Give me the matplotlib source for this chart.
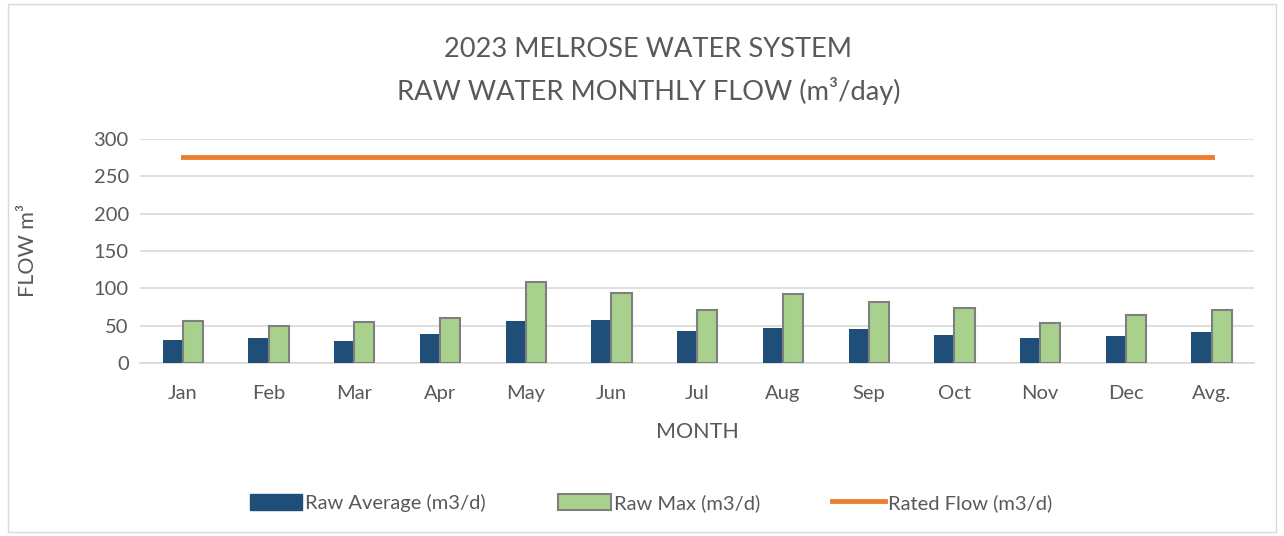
import numpy as np
import matplotlib
matplotlib.use("Agg")
import matplotlib.pyplot as plt
from matplotlib.patches import Patch, Rectangle
from matplotlib.lines import Line2D

plt.rcParams['font.family'] = ['Lato', 'DejaVu Sans']

months = ['Jan', 'Feb', 'Mar', 'Apr', 'May', 'Jun', 'Jul',
          'Aug', 'Sep', 'Oct', 'Nov', 'Dec', 'Avg.']
raw_avg = [31, 34, 30, 39, 56, 57, 43, 47, 45, 38, 33, 36, 41]
raw_max = [56, 49, 55, 60, 109, 94, 71, 92, 81, 73, 54, 64, 71]
rated = [276] * len(months)

blue = '#1f4e79'
green = '#a9d18e'
orange = '#ed7d31'
grey_txt = '#595959'

fig = plt.figure(figsize=(12.84, 5.36), dpi=100)
fig.patches.append(Rectangle((0.006, 0.008), 0.988, 0.984, transform=fig.transFigure,
                             fill=False, edgecolor='#d9d9d9', lw=1))
ax = fig.add_axes([0.109, 0.3228, 0.868, 0.418])

x = np.arange(len(months))
w = 0.235
ax.bar(x - w / 2, raw_avg, w, color=blue, zorder=3)
ax.bar(x + w / 2, raw_max, w, color=green, edgecolor='#7f7f7f', lw=1.5, zorder=3)
ax.plot(x, rated, color=orange, lw=3.5, zorder=4)

ax.set_xlim(-0.5, len(months) - 0.5)
ax.set_ylim(0, 300)
ax.set_yticks(range(0, 301, 50))
ax.set_xticks(x)
ax.set_xticklabels(months)
ax.grid(axis='y', color='#d9d9d9', lw=1.2, zorder=0)
ax.set_axisbelow(True)
for s in ['top', 'right', 'left']:
    ax.spines[s].set_visible(False)
ax.spines['bottom'].set_color('#d9d9d9')
ax.spines['bottom'].set_linewidth(1.2)
ax.tick_params(length=0, labelsize=14.5, colors=grey_txt, pad=8)
ax.tick_params(axis='x', pad=16)

ax.set_xlabel('MONTH', fontsize=15.5, color=grey_txt, labelpad=14)
ax.set_ylabel('FLOW m³', fontsize=15.5, color=grey_txt, labelpad=40)

fig.text(0.505, 0.908, '2023 MELROSE WATER SYSTEM', ha='center', va='center',
         fontsize=19.6, color=grey_txt)
fig.text(0.505, 0.83, 'RAW WATER MONTHLY FLOW (m³/day)', ha='center', va='center',
         fontsize=19.6, color=grey_txt)

handles = [Patch(facecolor=blue, edgecolor=blue),
           Patch(facecolor=green, edgecolor='#7f7f7f', lw=1.5),
           Line2D([0], [0], color=orange, lw=3.5)]
labels = ['Raw Average (m3/d)', 'Raw Max (m3/d)', 'Rated Flow (m3/d)']
fig.legend(handles, labels, loc='center', bbox_to_anchor=(0.507, 0.062), ncol=3,
           frameon=False, fontsize=14.5, labelcolor=grey_txt, handlelength=2.6,
           handleheight=0.9, handletextpad=0.15, columnspacing=3.6)

fig.savefig('out.png', dpi=100)
